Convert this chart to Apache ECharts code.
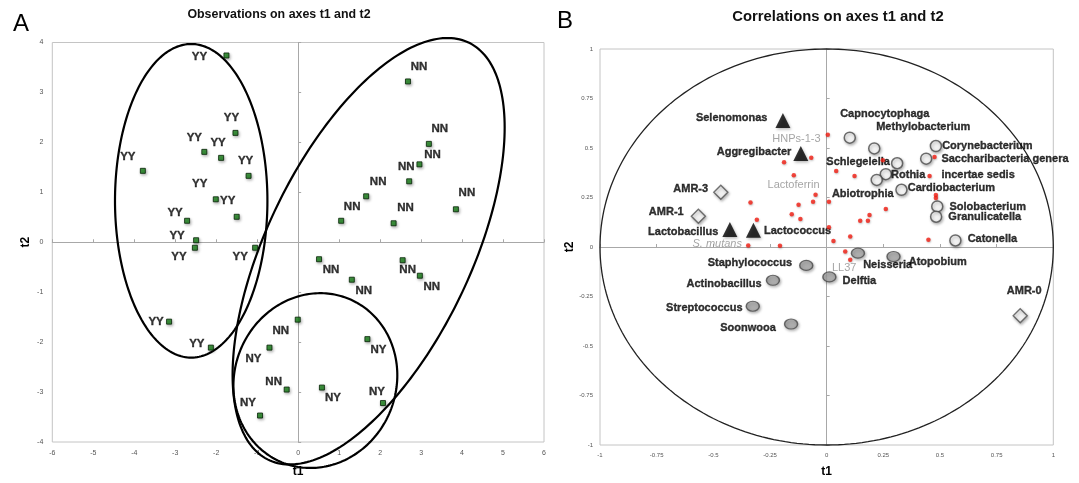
<!DOCTYPE html>
<html><head><meta charset="utf-8">
<script src="https://cdn.jsdelivr.net/npm/echarts/dist/echarts.min.js"></script>
<style>html,body{margin:0;padding:0;background:#fff}#c{width:1079px;height:483px}</style>
</head><body><div id="c"></div><script>
// ---------- Panel A: observations ----------
const obsGroup = ['YY','YY','YY','YY','YY','YY','YY','YY','YY','YY','YY','YY','YY','YY',
  'NN','NN','NN','NN','NN','NN','NN','NN','NN','NN','NN','NN','NN','NN',
  'NY','NY','NY','NY','NY'];
const obsT1 = [-1.75,-1.53,-2.29,-1.88,-1.21,-3.79,-2.01,-1.50,-2.71,-2.49,-2.52,-1.05,-3.15,-2.13,
  2.68,3.19,2.96,2.71,1.66,1.05,2.33,3.85,0.51,1.31,2.55,2.97,-0.01,-0.28,
  -0.70,-0.93,1.69,0.58,2.07];
const obsT2 = [3.74,2.19,1.81,1.69,1.33,1.43,0.86,0.51,0.43,0.04,-0.11,-0.11,-1.59,-2.11,
  3.22,1.97,1.56,1.22,0.92,0.43,0.38,0.66,-0.34,-0.75,-0.36,-0.67,-1.55,-2.95,
  -2.11,-3.47,-1.94,-2.91,-3.22];
// group ellipses (centre t1, centre t2, radius t1, radius t2, tilt correlation)
const ellCx = [-2.61, 1.72, 0.42];
const ellCy = [0.83, -0.18, -2.77];
const ellRx = [1.86, 3.32, 2.0];
const ellRy = [3.14, 4.27, 1.75];
const ellRho = [0, 0.58, 0.06];

// ---------- Panel B: correlations ----------
const dotT1 = [-0.068,-0.188,-0.145,-0.336,-0.060,0.010,-0.124,-0.154,-0.116,-0.308,0.010,0.030,-0.206,
  0.042,0.123,0.248,0.454,0.482,0.482,0.261,0.189,0.182,0.148,0.104,0.449,0.082,0.476];
const dotT2 = [0.451,0.428,0.363,0.225,0.228,0.228,0.213,0.165,0.142,0.138,0.100,0.030,0.006,
  0.384,0.359,0.438,0.359,0.262,0.247,0.192,0.162,0.133,0.133,0.053,0.036,-0.023,0.454];
const factorNames = ['HNPs-1-3','Lactoferrin','S. mutans','LL37'];
const factorT1 = [0.005,-0.049,-0.346,0.104];
const factorT2 = [0.567,0.264,0.008,-0.064];
const triNames = ['Selenomonas','Aggregibacter','Lactobacillus','Lactococcus'];
const triT1 = [-0.193,-0.114,-0.427,-0.323];
const triT2 = [0.639,0.472,0.088,0.085];
const diaNames = ['AMR-3','AMR-1','AMR-0'];
const diaT1 = [-0.467,-0.566,0.854];
const diaT2 = [0.276,0.155,-0.347];
const openNames = ['Capnocytophaga','Methylobacterium','Corynebacterium','Saccharibacteria genera\nincertae sedis',
  'Schlegelella','Rothia','Abiotrophia','Cardiobacterium','Solobacterium','Granulicatella','Catonella'];
const openT1 = [0.102,0.210,0.482,0.439,0.311,0.261,0.221,0.330,0.488,0.483,0.568];
const openT2 = [0.552,0.498,0.510,0.446,0.423,0.368,0.339,0.289,0.205,0.153,0.033];
const grayNames = ['Staphylococcus','Actinobacillus','Streptococcus','Soonwooa','Neisseria','Atopobium','Delftia'];
const grayT1 = [-0.090,-0.237,-0.326,-0.157,0.138,0.295,0.012];
const grayT2 = [-0.093,-0.168,-0.299,-0.389,-0.031,-0.048,-0.151];

// ---------- label layout (pixel offsets, not data) ----------
const obsLabelOffset = [[-27,1],[-4,-15],[-10,-14],[-3,-15],[-3,-15],[-15,-14],[-16,-15],[-9,-16],[-12,-8],[-19,-4],[-16,9],[-15,9],[-13,0],[-14,-4],
  [11,-15],[11,-15],[13,-10],[-3,-14],[12,-14],[11,-14],[12,-15],[11,-16],[12,11],[12,11],[5,10],[12,11],[-17,11],[-13,-8],
  [-16,11],[-12,-13],[11,11],[11,10],[-6,-11]];
const factorLayout = [['left',0,4],['top',-22,3],['left',1,-1],['bottom',-6,-4]];
const triLayout = [['left',-3,-3],['left',3,-2],['left',1,2],['right',-2,1]];
const diaLayout = [['left',0,-3],['left',-2,-4],['top',4,-7]];
const openLayout = [['top',35,-5],['top',49,-2],['right',-5,0],['right',4,8.5],['left',4,-1],['right',-6,1],
  ['bottom',-14,-5],['right',-5,-2],['right',1,1],['right',1,0],['right',1,-1]];
const grayLayout = [['left',-2,-2],['left',1,4],['left',2,2],['left',-3,4],['right',-7,12],['right',3,5],['right',1,4]];

const FONT = '"Liberation Sans", Arial, sans-serif';
const SHADOW = {shadowBlur:3, shadowColor:'rgba(0,0,0,0.35)', shadowOffsetX:1, shadowOffsetY:1.5};
const DOTSHADOW = {shadowBlur:2, shadowColor:'rgba(0,0,0,0.3)', shadowOffsetX:0.5, shadowOffsetY:1};

function ellipseRender(lw, col) {
  return function (params, api) {
    const cx = api.value(0), cy = api.value(1), rx = api.value(2), ry = api.value(3), rho = api.value(4);
    const s = Math.sqrt(1 - rho * rho);
    const pts = [];
    for (let i = 0; i <= 240; i++) {
      const t = i / 240 * Math.PI * 2;
      pts.push(api.coord([cx + rx * Math.cos(t), cy + ry * (rho * Math.cos(t) + s * Math.sin(t))]));
    }
    return {type:'polygon', shape:{points:pts}, style:{fill:'none', stroke:col, lineWidth:lw}, silent:true};
  };
}
function items(t1, t2, names, layout, extra) {
  return t1.map((x, i) => {
    const it = {value:[x, t2[i]], name:names[i],
      label:{show:true, position:layout[i][0], offset:[layout[i][1], layout[i][2]]}};
    if (extra) Object.assign(it.label, extra(i));
    return it;
  });
}

const labelAxisX = (grid, min, max, iv, name, gap, fs, margin) => ({
  type:'value', gridIndex:grid, min, max, interval:iv, position:'bottom',
  axisLine:{show:false, onZero:false}, axisTick:{show:false}, splitLine:{show:false},
  axisLabel:{fontSize:fs, color:'#555', fontFamily:FONT, margin},
  name, nameLocation:'middle', nameGap:gap,
  nameTextStyle:{fontWeight:'bold', fontSize:12, color:'#000', fontFamily:FONT}
});
const labelAxisY = (grid, min, max, iv, name, gap, fs, margin) => ({
  type:'value', gridIndex:grid, min, max, interval:iv, position:'left',
  axisLine:{show:false, onZero:false}, axisTick:{show:false}, splitLine:{show:false},
  axisLabel:{fontSize:fs, color:'#555', fontFamily:FONT, margin},
  name, nameLocation:'middle', nameGap:gap, nameRotate:90,
  nameTextStyle:{fontWeight:'bold', fontSize:12, color:'#000', fontFamily:FONT}
});
const zeroAxis = (grid, min, max, iv, pos) => ({
  type:'value', gridIndex:grid, min, max, interval:iv, position:pos,
  axisLine:{show:true, onZero:true, lineStyle:{color:'#a8a8a8', width:1}},
  axisTick:{show:true, length:3, lineStyle:{color:'#a8a8a8'}},
  axisLabel:{show:false}, splitLine:{show:false}
});

const gridStyle = {show:true, borderColor:'#c4c4c4', borderWidth:1, backgroundColor:'transparent', containLabel:false};
const LBL = {show:true, formatter:'{b}', fontWeight:'bold', fontSize:11, color:'#000', fontFamily:FONT,
  textBorderColor:'#000', textBorderWidth:0.35};

const chart = echarts.init(document.getElementById('c'), null, {renderer:'canvas'});
chart.setOption({
  animation:false,
  backgroundColor:'#fff',
  grid:[
    Object.assign({left:52.3, right:535, top:42.5, bottom:33.7}, gridStyle),
    Object.assign({left:600, right:25.7, top:49, bottom:35.7}, gridStyle)
  ],
  xAxis:[
    labelAxisX(0, -6, 6, 1, 't1', 24, 7, 8),
    zeroAxis(0, -6, 6, 1, 'top'),
    labelAxisX(1, -1, 1, 0.25, 't1', 21, 6, 7),
    zeroAxis(1, -1, 1, 0.25, 'top')
  ],
  yAxis:[
    labelAxisY(0, -4, 4, 1, 't2', 21, 7, 9),
    zeroAxis(0, -4, 4, 1, 'right'),
    labelAxisY(1, -1, 1, 0.25, 't2', 24, 6, 7),
    zeroAxis(1, -1, 1, 0.25, 'right')
  ],
  graphic:[
    {type:'text', x:21, y:24, style:{text:'A', font:'24px ' + FONT, fill:'#000', align:'center', verticalAlign:'middle'}},
    {type:'text', x:279, y:15, style:{text:'Observations on axes t1 and t2', font:'bold 12.4px ' + FONT, fill:'#111', align:'center', verticalAlign:'middle'}},
    {type:'text', x:565, y:21.5, style:{text:'B', font:'24px ' + FONT, fill:'#000', align:'center', verticalAlign:'middle'}},
    {type:'text', x:838, y:17, style:{text:'Correlations on axes t1 and t2', font:'bold 14.8px ' + FONT, fill:'#111', align:'center', verticalAlign:'middle'}}
  ],
  series:[
    {type:'custom', xAxisIndex:0, yAxisIndex:0, z:1, silent:true, clip:false,
     renderItem:ellipseRender(2.2, '#000'),
     data: ellCx.map((c, i) => [c, ellCy[i], ellRx[i], ellRy[i], ellRho[i]])},
    {type:'scatter', xAxisIndex:0, yAxisIndex:0, z:3, symbol:'rect', symbolSize:5,
     itemStyle:Object.assign({color:'#178517', borderColor:'#052205', borderWidth:1}, SHADOW),
     label:Object.assign({}, LBL, {fontSize:11.5}),
     data: obsT1.map((x, i) => ({value:[x, obsT2[i]], name:obsGroup[i],
       label:{position:'inside', offset:obsLabelOffset[i]}}))},

    {type:'custom', xAxisIndex:2, yAxisIndex:2, z:1, silent:true, clip:false,
     renderItem:ellipseRender(1.3, '#222'), data:[[0, 0, 1, 1, 0]]},
    {type:'scatter', xAxisIndex:2, yAxisIndex:2, z:4, symbol:'circle', symbolSize:4.5,
     itemStyle:Object.assign({color:'#f21d12'}, DOTSHADOW),
     data: dotT1.map((x, i) => [x, dotT2[i]])},
    {type:'scatter', xAxisIndex:2, yAxisIndex:2, z:4, symbol:'circle', symbolSize:4.5,
     itemStyle:Object.assign({color:'#f21d12'}, DOTSHADOW),
     label:{show:true, formatter:'{b}', fontSize:11, color:'#8e8e8e', fontFamily:FONT},
     data: items(factorT1, factorT2, factorNames, factorLayout, i => factorNames[i] === 'S. mutans' ? {fontStyle:'italic'} : {})},
    {type:'scatter', xAxisIndex:2, yAxisIndex:2, z:3, symbol:'triangle', symbolSize:15,
     itemStyle:Object.assign({color:'#000'}, SHADOW),
     label:LBL,
     data: items(triT1, triT2, triNames, triLayout)},
    {type:'scatter', xAxisIndex:2, yAxisIndex:2, z:3, symbol:'diamond', symbolSize:14,
     itemStyle:Object.assign({color:'#fff', borderColor:'#505050', borderWidth:1.4}, SHADOW),
     label:LBL,
     data: items(diaT1, diaT2, diaNames, diaLayout)},
    {type:'scatter', xAxisIndex:2, yAxisIndex:2, z:3, symbol:'circle', symbolSize:11,
     itemStyle:Object.assign({color:'#fff', borderColor:'#4a4a4a', borderWidth:1.5}, SHADOW),
     label:Object.assign({}, LBL, {lineHeight:15.7}),
     data: items(openT1, openT2, openNames, openLayout)},
    {type:'scatter', xAxisIndex:2, yAxisIndex:2, z:3, symbol:'circle', symbolSize:[13, 10],
     itemStyle:Object.assign({color:'#a9a9a9', borderColor:'#4a4a4a', borderWidth:1.3}, SHADOW),
     label:LBL,
     data: items(grayT1, grayT2, grayNames, grayLayout)}
  ]
});
</script></body></html>
